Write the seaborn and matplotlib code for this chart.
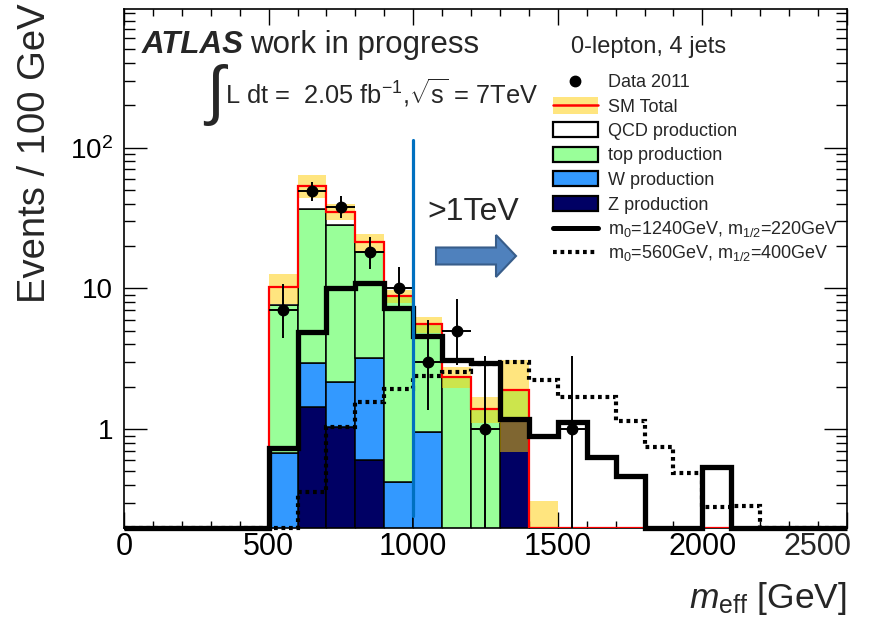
import numpy as np
import pandas as pd
import matplotlib
matplotlib.use("Agg")
import matplotlib.pyplot as plt
import matplotlib.transforms as mtransforms
from matplotlib.patches import Rectangle, Polygon
from matplotlib.lines import Line2D
from matplotlib.ticker import MultipleLocator, LogLocator, FuncFormatter, NullFormatter
import seaborn as sns

# ---------------------------------------------------------------- data
# 100 GeV bins of m_eff from 0 to 2500 GeV
bin_edges = np.arange(0, 2600, 100)
bin_centers = bin_edges[:-1] + 50

# Standard Model backgrounds (events per bin)
qcd = [0, 0, 0, 0, 0, 2.6, 16.9, 6.6, 3.3, 0, 0, 0, 0, 0, 0,
       0, 0, 0, 0, 0, 0, 0, 0, 0, 0]
top = [0, 0, 0, 0, 0, 6.92, 33.9, 26.2, 14.9, 8.4, 4.6, 2.35, 1.40, 0.74, 0,
       0, 0, 0, 0, 0, 0, 0, 0, 0, 0]
wjets = [0, 0, 0, 0, 0, 0.68, 1.54, 1.14, 2.62, 0.42, 0.95, 0, 0, 0, 0,
         0, 0, 0, 0, 0, 0, 0, 0, 0, 0]
zjets = [0, 0, 0, 0, 0, 0, 1.43, 1.03, 0.60, 0, 0, 0, 0, 1.15, 0,
         0, 0, 0, 0, 0, 0, 0, 0, 0, 0]
sm_err = [0, 0, 0, 0, 0, 2.5, 9.7, 4.5, 3.0, 0.9, 0.7, 0.4, 0.3, 1.2, 0.31,
          0, 0, 0, 0, 0, 0, 0, 0, 0, 0]

# SUSY benchmark points
sig_1240_220 = [0, 0, 0, 0, 0, 0.74, 4.9, 10.0, 11.0, 7.3, 4.6, 3.1, 2.95, 1.19, 0.90,
                1.12, 0.63, 0.465, 0, 0, 0.535, 0, 0, 0, 0]
sig_560_400 = [0, 0, 0, 0, 0, 0, 0.355, 1.03, 1.55, 1.94, 2.39, 2.55, 2.89, 3.0, 2.23,
               1.70, 1.70, 1.15, 0.745, 0.49, 0.28, 0.285, 0, 0, 0]

# Data 2011 with Poisson (Garwood) intervals
data_x = [550, 650, 750, 850, 950, 1050, 1150, 1250, 1550]
data_n = [7, 49, 38, 18, 10, 3, 5, 1, 1]
data_err_lo = [2.58, 6.97, 6.13, 4.20, 3.11, 1.63, 2.16, 0.83, 0.83]
data_err_hi = [3.77, 8.05, 7.22, 5.33, 4.27, 2.92, 3.38, 2.30, 2.30]

process_names = ["QCD production", "top production", "W production", "Z production"]
process_colors = ["#ffffff", "#99ff99", "#3399ff", "#000064"]

cut_value = 1000
x_lo, x_hi = 0, 2500
y_lo, y_hi = 0.2, 975

# ---------------------------------------------------------------- style
sns.set_style("ticks")
plt.rcParams["font.family"] = ["Liberation Sans", "DejaVu Sans"]
plt.rcParams["mathtext.fontset"] = "custom"
plt.rcParams["mathtext.rm"] = "Liberation Sans"
plt.rcParams["mathtext.it"] = "Liberation Sans:italic"
plt.rcParams["mathtext.bf"] = "Liberation Sans:bold"

W, H = 879, 619
fig = plt.figure(figsize=(W / 100, H / 100), dpi=100)
ax = fig.add_axes([124 / W, 1 - 527.5 / H, 723 / W, (527.5 - 8.5) / H])

# pixel coordinates measured from the top-left corner of the canvas
px = mtransforms.Affine2D().scale(1 / 100, -1 / 100).translate(0, H / 100) + fig.dpi_scale_trans

# ---------------------------------------------------------------- stacked backgrounds
stack_df = pd.DataFrame({
    "meff": np.tile(bin_centers, 4).astype(float),
    "events": np.concatenate([qcd, top, wjets, zjets]).astype(float),
    "process": np.repeat(process_names, len(bin_centers)),
})
sns.histplot(data=stack_df, x="meff", weights="events", hue="process",
             hue_order=process_names, multiple="stack",
             bins=[float(b) for b in bin_edges],
             palette=dict(zip(process_names, process_colors)), alpha=1,
             edgecolor="black", linewidth=1.1, legend=False, ax=ax, zorder=2)
ax.set_yscale("log")

total = np.array(qcd) + np.array(top) + np.array(wjets) + np.array(zjets)
err = np.array(sm_err)

# uncertainty band on the SM total
ax.bar(bin_centers, 2 * err, bottom=total - err, width=100, color="#ffcc00",
       alpha=0.5, linewidth=0, zorder=3)
# SM total outline
ax.stairs(np.clip(total, y_lo, None), bin_edges, baseline=None, color="red",
          linewidth=1.6, zorder=4)

# signal histograms
ax.stairs(np.clip(sig_1240_220, y_lo, None), bin_edges, baseline=None,
          color="black", linewidth=3.8, zorder=5, clip_on=False)
ax.stairs(np.clip(sig_560_400, y_lo, None), bin_edges, baseline=None,
          color="black", linewidth=3.0, linestyle=(0, (0.9, 0.9)), zorder=5,
          clip_on=False)

# data points
ax.errorbar(data_x, data_n, yerr=[data_err_lo, data_err_hi], xerr=50, fmt="o",
            color="black", markersize=7.5, elinewidth=1.4, capsize=0, zorder=6)

# 1 TeV cut marker
ax.plot([cut_value, cut_value], [0.242, 114], color="#0070c0", linewidth=2.3, zorder=7)

# ---------------------------------------------------------------- axes
ax.set_xlim(x_lo, x_hi)
ax.set_ylim(y_lo, y_hi)
ax.xaxis.set_major_locator(MultipleLocator(500))
ax.xaxis.set_minor_locator(MultipleLocator(100))
# the label at the right edge is placed separately so that it stays on the canvas
ax.xaxis.set_major_formatter(FuncFormatter(
    lambda v, pos: "" if abs(v - x_hi) < 1e-6 else f"{v:.0f}"))
ax.yaxis.set_major_locator(LogLocator(base=10, subs=(1.0,)))
ax.yaxis.set_minor_locator(LogLocator(base=10, subs=np.arange(2, 10)))
ax.yaxis.set_minor_formatter(NullFormatter())
ax.yaxis.set_major_formatter(FuncFormatter(
    lambda v, pos: {1: "1", 10: "10", 100: "$10^{2}$"}.get(int(round(v)), "")))
ax.tick_params(which="both", direction="in", top=True, right=True,
               width=1.0, colors="black")
ax.tick_params(axis="x", which="major", length=11.3, labelsize=22, pad=3)
ax.tick_params(axis="x", which="minor", length=5.3)
ax.tick_params(axis="y", which="major", length=16.3, labelsize=20, pad=8)
ax.tick_params(axis="y", which="minor", length=7.7)
for sp in ax.spines.values():
    sp.set_visible(True)
    sp.set_linewidth(1.2)
    sp.set_color("black")
ax.set_xlabel("")
ax.set_ylabel("")

ax.annotate(f"{x_hi:.0f}", xy=(x_hi, 0), xycoords=("data", "axes fraction"),
            xytext=(3, -3), textcoords="offset points", ha="right", va="top",
            fontsize=22, annotation_clip=False)

fig.text(847 / W, 1 - 608 / H, r"$m_{\mathrm{eff}}$ [GeV]", fontsize=25.5,
         ha="right", va="baseline")
fig.text(35 / W, 1 - 3 / H, "Events / 100 GeV", fontsize=27.5, rotation=90,
         ha="center", va="top")

# ---------------------------------------------------------------- annotations
fig.text(142, 53.3, "ATLAS", transform=px, fontsize=22.5, fontweight="bold",
         fontstyle="italic", va="baseline")
fig.text(250, 53.3, "work in progress", transform=px, fontsize=22.5, va="baseline")
fig.text(206, 64, "\u222b", transform=px, fontsize=47, va="top",
         family=["Liberation Sans", "DejaVu Sans"])
fig.text(225, 103.5, r"L dt =  2.05 fb$^{-1}$,$\sqrt{\mathrm{s}}$ = 7TeV",
         transform=px, fontsize=18.3, va="baseline")

fig.text(427, 220, ">1TeV", transform=px, fontsize=23, va="baseline")
arrow = Polygon([(436, 247.5), (496, 247.5), (496, 235), (516, 256), (496, 277),
                 (496, 264.5), (436, 264.5)], closed=True, transform=px,
                facecolor="#4f81bd", edgecolor="#385d8a", linewidth=1.5)
fig.add_artist(arrow)

# ---------------------------------------------------------------- legend
fig.text(571, 53.3, "0-lepton, 4 jets", transform=px, fontsize=17, va="baseline")
rows = [80.5, 105, 129.5, 154, 178.5, 203, 227.5, 251.5]
labels = ["Data 2011", "SM Total", "QCD production", "top production",
          "W production", "Z production",
          r"m$_0$=1240GeV, m$_{1/2}$=220GeV", r"m$_0$=560GeV, m$_{1/2}$=400GeV"]
for yr, lab in zip(rows, labels):
    fig.text(608, yr + 6.5, lab, transform=px, fontsize=13, va="baseline")

x0, x1 = 553, 598
fig.add_artist(Line2D([575], [rows[0]], marker="o", markersize=7.5, color="black",
                      transform=px))
fig.add_artist(Rectangle((x0, rows[1] - 8.5), x1 - x0, 17, transform=px,
                         facecolor="#ffcc00", alpha=0.5, linewidth=0))
fig.add_artist(Line2D([x0, x1], [rows[1], rows[1]], color="red", linewidth=1.8,
                      transform=px))
for yr, col in zip(rows[2:6], process_colors):
    fig.add_artist(Rectangle((x0, yr - 7.5), x1 - x0, 15, transform=px,
                             facecolor=col, edgecolor="black", linewidth=1.6))
fig.add_artist(Line2D([x0, x1], [rows[6], rows[6]], color="black", linewidth=3.6,
                      transform=px))
fig.add_artist(Line2D([x0, x1], [rows[7], rows[7]], color="black", linewidth=3.0,
                      linestyle=(0, (0.9, 0.9)), transform=px))

fig.savefig("out.png", dpi=100)
